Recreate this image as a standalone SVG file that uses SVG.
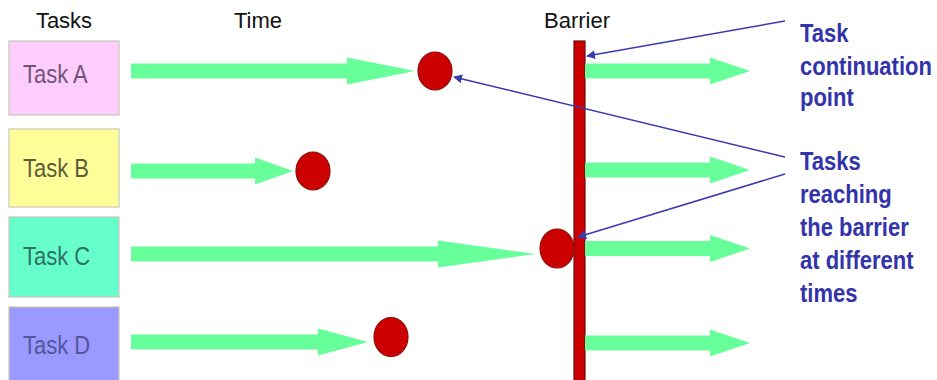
<svg xmlns="http://www.w3.org/2000/svg" width="937" height="380" viewBox="0 0 937 380">
  <defs>
    <style>
      .hdr { font-family: "Liberation Sans", Arial, sans-serif; font-size: 22px; fill: #111; text-anchor: middle; }
      .lbl { font-family: "Liberation Sans", Arial, sans-serif; font-size: 25px; }
      .box { stroke: #c8c8b0; stroke-width: 1.2; }
      .arrow { fill: #66ff99; }
      .dot { fill: #cc0000; stroke: #8b1010; stroke-width: 1.2; }
      .note { font-family: "Liberation Sans", Arial, sans-serif; font-size: 25px; font-weight: bold; fill: #3333aa; }
      .ptr { stroke: #3a3ab0; stroke-width: 1.5; fill: none; marker-end: url(#ah); }
    </style>
    <marker id="ah" viewBox="0 0 10 10" refX="9" refY="5" markerWidth="9" markerHeight="9" markerUnits="userSpaceOnUse" orient="auto">
      <path d="M0,0 L10,5 L0,10 Z" fill="#3a3ab0"/>
    </marker>
  </defs>
  <rect width="937" height="380" fill="#ffffff"/>

  <g id="headers">
    <text class="hdr" x="64" y="28">Tasks</text>
    <text class="hdr" x="258" y="28">Time</text>
    <text class="hdr" x="577" y="28">Barrier</text>
  </g>

  <g id="task-a">
    <rect class="box" x="9" y="41" width="110" height="74" fill="#ffccff"/>
    <text class="lbl" transform="translate(23,83) scale(0.88,1)" fill="#6f5675">Task A</text>
  </g>
  <g id="task-b">
    <rect class="box" x="9" y="129" width="110" height="78" fill="#ffff99"/>
    <text class="lbl" transform="translate(23,177) scale(0.88,1)" fill="#5a5a3c">Task B</text>
  </g>
  <g id="task-c">
    <rect class="box" x="9" y="217" width="110" height="80" fill="#66ffcc"/>
    <text class="lbl" transform="translate(23,265) scale(0.88,1)" fill="#2f7060">Task C</text>
  </g>
  <g id="task-d">
    <rect class="box" x="9" y="307" width="110" height="80" fill="#9999ff"/>
    <text class="lbl" transform="translate(23,354) scale(0.88,1)" fill="#55559a">Task D</text>
  </g>

  <g id="barrier">
    <rect x="574" y="41" width="11" height="345" fill="#cc0000" stroke="#6a0a0a" stroke-width="1.2"/>
  </g>

  <g id="connectors">
    <polygon class="arrow" points="131,63.5 347,63.5 347,57.5 415,71 347,84.5 347,78.5 131,78.5"/>
    <polygon class="arrow" points="131,163.5 255,163.5 255,157.5 293,171 255,184.5 255,178.5 131,178.5"/>
    <polygon class="arrow" points="131,246.5 438,246.5 438,240.5 535,254 438,267.5 438,261.5 131,261.5"/>
    <polygon class="arrow" points="131,334.5 318,334.5 318,328.5 368,342 318,355.5 318,349.5 131,349.5"/>

    <polygon class="arrow" points="585,63.5 710,63.5 710,57.5 750,71 710,84.5 710,78.5 585,78.5"/>
    <polygon class="arrow" points="585,162.5 710,162.5 710,156.5 750,170 710,183.5 710,177.5 585,177.5"/>
    <polygon class="arrow" points="585,241 710,241 710,235 750,248.5 710,262 710,256 585,256"/>
    <polygon class="arrow" points="585,335.5 710,335.5 710,329.5 750,343 710,356.5 710,350.5 585,350.5"/>

    <line class="ptr" x1="785" y1="21" x2="587" y2="56"/>
    <line class="ptr" x1="785" y1="157" x2="454" y2="77"/>
    <line class="ptr" x1="785" y1="174" x2="578" y2="237"/>
  </g>

  <g id="dots">
    <ellipse class="dot" cx="435" cy="71" rx="17" ry="19"/>
    <ellipse class="dot" cx="313" cy="171" rx="17" ry="19"/>
    <ellipse class="dot" cx="557" cy="248.5" rx="17" ry="19.5"/>
    <ellipse class="dot" cx="391" cy="337" rx="17" ry="19.5"/>
  </g>

  <g id="note-continuation">
    <text class="note" transform="translate(800,42) scale(0.88,1)">
      <tspan x="0" y="0">Task</tspan>
      <tspan x="0" y="33">continuation</tspan>
      <tspan x="0" y="64">point</tspan>
    </text>
  </g>
  <g id="note-reaching">
    <text class="note" transform="translate(800,170) scale(0.88,1)">
      <tspan x="0" y="0">Tasks</tspan>
      <tspan x="0" y="33">reaching</tspan>
      <tspan x="0" y="66">the barrier</tspan>
      <tspan x="0" y="99">at different</tspan>
      <tspan x="0" y="132">times</tspan>
    </text>
  </g>
</svg>
